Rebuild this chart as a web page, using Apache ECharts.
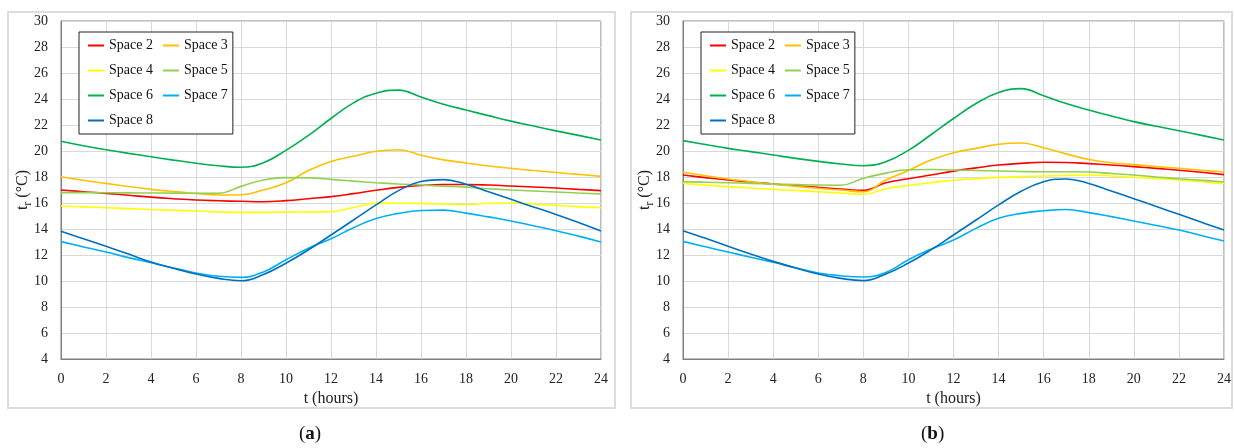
<!DOCTYPE html>
<html>
<head>
<meta charset="utf-8">
<script src="https://cdn.jsdelivr.net/npm/echarts@6/dist/echarts.min.js"></script>
<style>
html,body{margin:0;padding:0;background:#fff;}
#c{width:1234px;height:448px;}
</style>
</head>
<body>
<div id="c"></div>
<script>
// ---- data ----
const hours = [0,1,2,3,4,5,6,7,8,9,10,11,12,13,14,15,16,17,18,19,20,21,22,23,24];
const names = ['Space 2','Space 3','Space 4','Space 5','Space 6','Space 7','Space 8'];
const xTicks = [0,2,4,6,8,10,12,14,16,18,20,22,24];
const yTicks = [4,6,8,10,12,14,16,18,20,22,24,26,28,30];

// panel (a)
const a_space2 = [17.0,16.87,16.74,16.6,16.45,16.33,16.23,16.17,16.13,16.1,16.18,16.33,16.49,16.72,16.98,17.2,17.35,17.42,17.42,17.38,17.31,17.23,17.15,17.05,16.95];
const a_space3 = [18.02,17.75,17.51,17.27,17.05,16.88,16.74,16.62,16.64,17.0,17.55,18.5,19.2,19.6,19.98,20.1,19.68,19.32,19.08,18.85,18.67,18.5,18.35,18.2,18.05];
const a_space4 = [15.77,15.7,15.64,15.57,15.5,15.44,15.38,15.32,15.28,15.28,15.3,15.31,15.33,15.65,15.97,15.98,15.97,15.93,15.88,15.98,16.0,15.92,15.82,15.72,15.63];
const a_space5 = [16.8,16.8,16.79,16.78,16.77,16.76,16.75,16.75,17.28,17.77,17.95,17.93,17.82,17.68,17.56,17.46,17.38,17.3,17.22,17.1,17.0,16.92,16.85,16.77,16.7];
const a_space6 = [20.75,20.4,20.1,19.82,19.56,19.3,19.06,18.86,18.75,19.1,20.05,21.2,22.5,23.7,24.45,24.68,24.15,23.6,23.15,22.72,22.3,21.92,21.55,21.2,20.85];
const a_space7 = [13.03,12.62,12.23,11.8,11.4,11.0,10.62,10.36,10.28,10.7,11.63,12.52,13.25,14.1,14.8,15.2,15.42,15.45,15.22,14.93,14.62,14.25,13.87,13.45,13.0];
const a_space8 = [13.82,13.25,12.67,12.07,11.46,10.98,10.54,10.2,10.02,10.5,11.37,12.4,13.54,14.69,15.85,16.95,17.65,17.8,17.45,16.87,16.28,15.7,15.12,14.5,13.85];

// panel (b)
const b_space2 = [18.15,17.95,17.77,17.62,17.46,17.33,17.2,17.08,16.97,17.55,17.87,18.15,18.45,18.7,18.92,19.05,19.13,19.12,19.03,18.92,18.8,18.66,18.52,18.36,18.18];
const b_space3 = [18.36,18.1,17.85,17.64,17.44,17.28,17.13,17.0,16.87,17.77,18.5,19.3,19.87,20.2,20.52,20.62,20.25,19.78,19.35,19.1,18.95,18.8,18.67,18.52,18.38];
const b_space4 = [17.51,17.38,17.26,17.15,17.05,16.96,16.87,16.77,16.67,17.1,17.35,17.56,17.75,17.87,17.97,18.03,18.08,18.12,18.15,18.08,17.98,17.88,17.77,17.63,17.48];
const b_space5 = [17.64,17.6,17.56,17.51,17.46,17.42,17.38,17.37,17.9,18.3,18.56,18.58,18.54,18.5,18.46,18.42,18.4,18.4,18.38,18.27,18.15,18.0,17.87,17.75,17.62];
const b_space6 = [20.8,20.5,20.2,19.95,19.69,19.43,19.2,19.0,18.87,19.18,20.05,21.25,22.5,23.65,24.5,24.8,24.25,23.65,23.15,22.7,22.26,21.9,21.56,21.2,20.85];
const b_space7 = [13.05,12.63,12.23,11.83,11.44,11.02,10.62,10.4,10.31,10.66,11.64,12.45,13.15,14.05,14.82,15.2,15.4,15.5,15.26,14.95,14.62,14.27,13.92,13.5,13.08];
const b_space8 = [13.87,13.28,12.67,12.08,11.51,11.0,10.54,10.2,10.03,10.54,11.38,12.4,13.54,14.69,15.85,16.9,17.64,17.85,17.5,16.92,16.33,15.73,15.13,14.52,13.92];

const panelA = [a_space2,a_space3,a_space4,a_space5,a_space6,a_space7,a_space8];
const panelB = [b_space2,b_space3,b_space4,b_space5,b_space6,b_space7,b_space8];
const colors = ['#FF0000','#FFC000','#FFFF00','#92D050','#00B050','#00B0F0','#0070C0'];

// ---- chart ----
const FONT = 'Liberation Serif';
const chart = echarts.init(document.getElementById('c'), null, {renderer:'canvas'});

function xAxis(gi){
  return {
    type:'value', gridIndex:gi, min:xTicks[0], max:xTicks[xTicks.length-1], interval:2,
    name:'t (hours)', nameLocation:'middle', nameGap:30,
    nameTextStyle:{fontFamily:FONT,fontSize:16,color:'#222'},
    axisLine:{show:true,lineStyle:{color:'#7f7f7f',width:1}},
    axisTick:{show:false},
    axisLabel:{fontFamily:FONT,fontSize:14,color:'#222',margin:13},
    splitLine:{show:true,lineStyle:{color:'#d9d9d9',width:1}}
  };
}
function yAxis(gi){
  return {
    type:'value', gridIndex:gi, min:yTicks[0], max:yTicks[yTicks.length-1], interval:2,
    name:'{a|t}{b|r}{a| (°C)}', nameLocation:'middle', nameGap:27, nameRotate:90,
    nameMoveOverlap:false,
    nameTextStyle:{
      fontFamily:FONT,fontSize:16,color:'#222',
      rich:{
        a:{fontFamily:FONT,fontSize:16,color:'#222',lineHeight:22,verticalAlign:'middle'},
        b:{fontFamily:FONT,fontSize:12,color:'#222',lineHeight:22,verticalAlign:'bottom'}
      }
    },
    axisLine:{show:true,lineStyle:{color:'#7f7f7f',width:1}},
    axisTick:{show:false},
    axisLabel:{fontFamily:FONT,fontSize:14,color:'#222',margin:13},
    splitLine:{show:true,lineStyle:{color:'#d9d9d9',width:1}}
  };
}
function legend(left){
  return {
    left:left, top:32, width:150, orient:'horizontal',
    icon:'path://M0,0 L16,0 L16,2 L0,2 Z',
    itemWidth:16, itemHeight:15, itemGap:10,
    padding:[6,5,6,9],
    borderColor:'#222', borderWidth:1, backgroundColor:'#fff',
    textStyle:{fontFamily:FONT,fontSize:14,lineHeight:15,color:'#111'},
    data:names
  };
}
const series = [];
[panelA,panelB].forEach((panel,pi)=>{
  panel.forEach((vals,si)=>{
    series.push({
      type:'line', name:names[si], xAxisIndex:pi, yAxisIndex:pi,
      data:hours.map((h,i)=>[h,vals[i]]),
      showSymbol:false, symbol:'none', smooth:0.45,
      lineStyle:{color:colors[si],width:1.6},
      itemStyle:{color:colors[si]},
      emphasis:{disabled:true}, animation:false
    });
  });
});

chart.setOption({
  animation:false,
  backgroundColor:'#fff',
  grid:[
    {left:61,top:21,width:540,height:338,show:true,borderColor:'#7f7f7f',borderWidth:1,backgroundColor:'transparent'},
    {left:683,top:21,width:541,height:338,show:true,borderColor:'#7f7f7f',borderWidth:1,backgroundColor:'transparent'}
  ],
  xAxis:[xAxis(0),xAxis(1)],
  yAxis:[yAxis(0),yAxis(1)],
  legend:[legend(79),legend(701)],
  series:series,
  graphic:[
    {type:'rect',shape:{x:8,y:12,width:607,height:396},style:{fill:'none',stroke:'#dcdcdc',lineWidth:2},silent:true,z:-10},
    {type:'rect',shape:{x:631,y:12,width:601,height:396},style:{fill:'none',stroke:'#dcdcdc',lineWidth:2},silent:true,z:-10},
    {type:'text',left:299,top:425,style:{text:'{p|(}{b|a}{p|)}',rich:{p:{fontFamily:FONT,fontSize:19,fill:'#111'},b:{fontFamily:FONT,fontSize:19,fontWeight:'bold',fill:'#111'}}}},
    {type:'text',left:921,top:425,style:{text:'{p|(}{b|b}{p|)}',rich:{p:{fontFamily:FONT,fontSize:19,fill:'#111'},b:{fontFamily:FONT,fontSize:19,fontWeight:'bold',fill:'#111'}}}}
  ]
});
</script>
</body>
</html>
